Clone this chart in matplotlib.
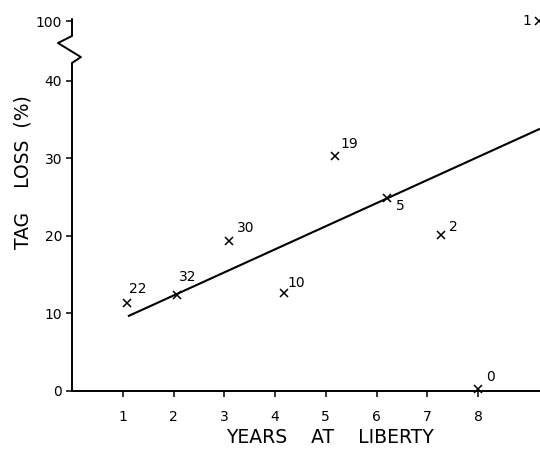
import numpy as np
import matplotlib
matplotlib.use("Agg")
import matplotlib.pyplot as plt

# ---------------------------- data ----------------------------
years = [1.09, 2.06, 3.1, 4.18, 5.18, 6.2, 7.26, 8.0, 9.2]   # plotted positions (years at liberty)
tag_loss = [11.4, 12.4, 19.4, 12.6, 30.3, 24.9, 20.1, 0.2, 100]
n_fish = ["22", "32", "30", "10", "19", "5", "2", "0", "1"]
# label offsets in pixels (dx, dy) from each marker
label_dx = [10, 11, 16, 12, 14, 14, 13, 12, -12]
label_dy = [14, 18, 13, 10, 12, -8, 8, 12, 0]

fit_x = [1.12, 9.2]
fit_intercept = 6.36
fit_slope = 2.98

xticks = [1, 2, 3, 4, 5, 6, 7, 8]
yticks = [0, 10, 20, 30, 40, 100]

# ---------------------------- broken y scale ----------------------------
SQ = 0.128  # compression above 40


def fwd(y):
    y = np.asarray(y, dtype=float)
    return np.where(y <= 40, y, 40 + (y - 40) * SQ)


def inv(u):
    u = np.asarray(u, dtype=float)
    return np.where(u <= 40, u, 40 + (u - 40) / SQ)


# ---------------------------- draw ----------------------------
fig = plt.figure(figsize=(5.4, 4.5), dpi=100)
ax = fig.add_axes([72 / 540, 59 / 450, 468 / 540, 391 / 450])
ax.set_yscale("function", functions=(fwd, inv))
ax.set_xlim(0, 9.22)
ax.set_ylim(0, float(inv(50.45)))

ax.plot(years, tag_loss, "x", color="black", markersize=5.5, markeredgewidth=1.1,
        clip_on=False, zorder=3)
fx = np.array(fit_x)
ax.plot(fx, fit_intercept + fit_slope * fx, color="black", lw=1.5)

for x, y, t, dx, dy in zip(years, tag_loss, n_fish, label_dx, label_dy):
    ax.annotate(t, (x, y), xytext=(dx, dy), textcoords="offset pixels",
                ha="center", va="center", fontsize=10)

# left axis with a break drawn by hand
for s in ["top", "right", "left"]:
    ax.spines[s].set_visible(False)
ax.spines["bottom"].set_linewidth(1.4)
brk_x = [0, 0, 0.019, -0.030, 0, 0]
brk_y = [0, 0.839, 0.854, 0.890, 0.908, 0.951]
ax.plot(brk_x, brk_y, color="black", lw=1.4, transform=ax.transAxes, clip_on=False)

ax.set_xticks(xticks)
ax.set_xticklabels([str(v) for v in xticks])
ax.set_yticks(yticks)
ax.set_yticklabels([str(v) for v in yticks])
ax.yaxis.set_minor_locator(matplotlib.ticker.NullLocator())
ax.tick_params(axis="both", direction="out", length=4, width=1.1, labelsize=10)
ax.tick_params(axis="x", pad=10)
ax.tick_params(axis="y", pad=3)

ax.set_xlabel("YEARS    AT    LIBERTY", fontsize=13.5)
ax.xaxis.set_label_coords(0.551, -0.095)
ax.set_ylabel("TAG    LOSS  (%)", fontsize=13.5)
ax.yaxis.set_label_coords(-0.085, 0.56)

fig.savefig("out.png", dpi=100)
